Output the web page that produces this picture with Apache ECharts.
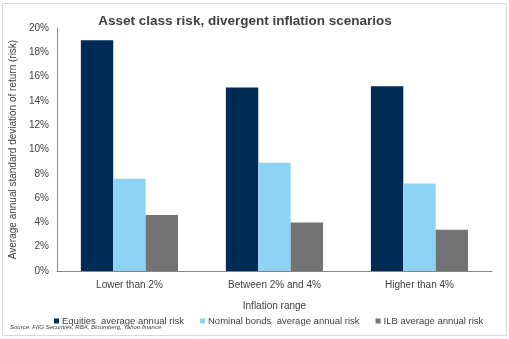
<!DOCTYPE html>
<html><head><meta charset="utf-8">
<script src="https://cdn.jsdelivr.net/npm/echarts@6/dist/echarts.min.js"></script>
<style>html,body{margin:0;padding:0;background:#fff}#c{width:509px;height:339px}</style>
</head><body><div id="c"></div>
<script>
const categories = ['Lower than 2%', 'Between 2% and 4%', 'Higher than 4%'];
const equities = [19.0, 15.1, 15.2];
const nominalBonds = [7.6, 8.9, 7.2];
const ilb = [4.6, 4.0, 3.4];
const seriesNames = ['Equities  average annual risk', 'Nominal bonds  average annual risk', 'ILB average annual risk'];
const title = 'Asset class risk, divergent inflation scenarios';
const source = 'Source: FIIG Securities, RBA, Bloomberg, Yahoo finance';

const chart = echarts.init(document.getElementById('c'), null, {renderer: 'canvas'});
const font = 'Liberation Sans, Arial, sans-serif';
chart.setOption({
  animation: false,
  textStyle: {fontFamily: font},
  title: {text: title, left: 240, textAlign: 'center', top: 9,
    textStyle: {fontSize: 13.5, fontWeight: 'bold', color: '#404040', fontFamily: font}},
  graphic: [
    {type: 'rect', shape: {x: 2.5, y: 3.5, width: 504, height: 332}, style: {fill: 'none', stroke: '#d9d9d9', lineWidth: 1}, z: -1},
    {type: 'text', left: 10, top: 324, style: {text: source, font: 'italic 6px Liberation Sans, Arial, sans-serif', fill: '#404040'}}
  ],
  grid: {left: 43, right: 17, top: 28, bottom: 68},
  legend: {left: 49, top: 311, itemWidth: 5, itemHeight: 5, itemGap: 16, icon: 'rect',
    textStyle: {fontSize: 9.5, color: '#404040', padding: [0, 0, 0, -2]}},
  xAxis: {type: 'category', data: categories,
    name: 'Inflation range', nameLocation: 'middle', nameGap: 30,
    nameTextStyle: {fontSize: 10, color: '#404040'},
    axisLine: {lineStyle: {color: '#868686'}}, axisTick: {show: false},
    axisLabel: {fontSize: 10, color: '#404040', margin: 9}},
  yAxis: {type: 'value', min: 0, max: 20, interval: 2,
    name: 'Average annual standard deviation of return (risk)', nameLocation: 'middle', nameGap: 33,
    nameTextStyle: {fontSize: 10, color: '#404040'},
    axisLine: {show: true, lineStyle: {color: '#868686'}}, axisTick: {show: false},
    splitLine: {show: false},
    axisLabel: {fontSize: 10, color: '#404040', margin: 8, formatter: v => v + '%'}},
  series: [
    {name: seriesNames[0], type: 'bar', data: equities, barGap: '0%', barCategoryGap: '33%', itemStyle: {color: '#002b54'}},
    {name: seriesNames[1], type: 'bar', data: nominalBonds, barGap: '0%', barCategoryGap: '33%', itemStyle: {color: '#8ed3f4'}},
    {name: seriesNames[2], type: 'bar', data: ilb, barGap: '0%', barCategoryGap: '33%', itemStyle: {color: '#737373'}}
  ]
});
</script></body></html>
